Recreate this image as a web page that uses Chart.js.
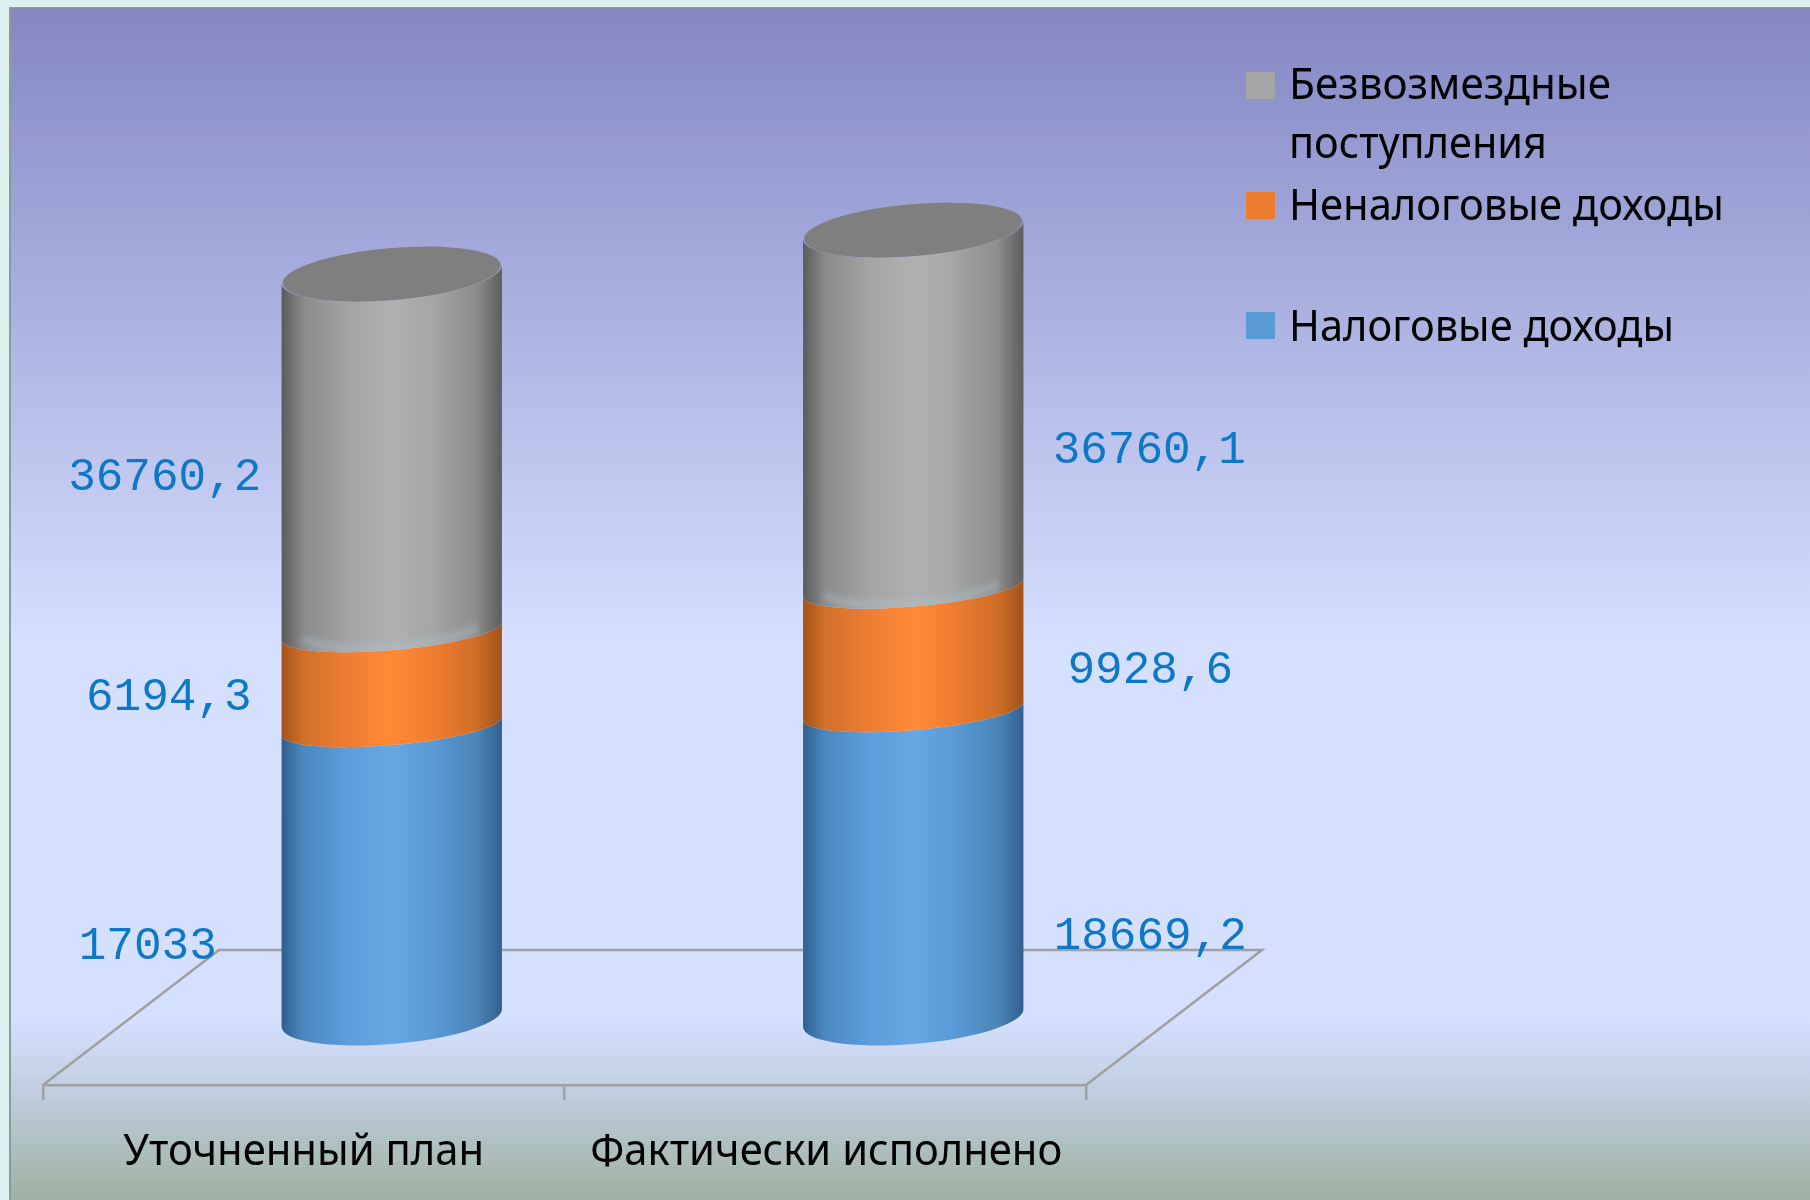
<!DOCTYPE html>
<html lang="ru">
<head>
<meta charset="utf-8">
<title>Доходы</title>
<style>
  html, body { margin: 0; padding: 0; background: #dcf0f0; }
  canvas { display: block; }
</style>
<script src="https://cdn.jsdelivr.net/npm/chart.js@4/dist/chart.umd.min.js"></script>
</head>
<body>
<canvas id="chart" width="1810" height="1200"></canvas>
<script>
const categories = ['Уточненный план', 'Фактически исполнено'];

// The printed labels do not scale with the drawn columns in the picture, so the
// heights are read off the picture, with the axis calibrated on the grey segment.
const taxHeights    = [30070, 31610];
const nonTaxHeights = [9780, 12720];
const grantHeights  = [36760, 36810];

const taxLabels    = ['17033', '18669,2'];
const nonTaxLabels = ['6194,3', '9928,6'];
const grantLabels  = ['36760,2', '36760,1'];

const seriesNames = ['Налоговые доходы', 'Неналоговые доходы', 'Безвозмездные поступления'];

// ── Styling ───────────────────────────────────────────────────────────────

const TEXT_FONT = '"Noto Sans", sans-serif';
const LABEL_FONT = '46px "Liberation Mono", monospace';
const LABEL_COLOR = '#0d78c6';
const FLOOR_COLOR = '#a0a0a0';

const DEPTH_X = 88;   // 3D shift from the front axis to the column centre
const DEPTH_Y = 67;
const ELLIPSE_B = 26;     // top and bottom faces
const SEAM_B = 19;        // boundaries between segments are flatter
const ELLIPSE_ROT = -0.085;

const SHADES = [
    ['#2e5f8e', '#4a88bf', '#5c9ddb', '#66a7e4', '#5a9ad6', '#4c86b8', '#30608c'],
    ['#a3521a', '#d0702a', '#ee7d33', '#ff8b36', '#f07d30', '#cf6e28', '#a0521a'],
    ['#5a5a5a', '#8a8a8a', '#a4a4a4', '#b1b1b1', '#a6a6a6', '#8d8d8d', '#5c5c5c']
];
const SHADE_STOPS = [0, 0.1, 0.3, 0.5, 0.68, 0.88, 1];
const TOP_COLOR = '#7f7f7f';

// dx from the bar centre on the front axis, dy from the segment centre
const LABEL_OFFSETS = [
    [[-156, 75], [325, 72]],
    [[-135, 19], [325, 22]],
    [[-139, 25], [324, 42]]
];

const LEGEND_ROWS = [
    { color: '#a5a5a5', box: 72,  lines: [['Безвозмездные', 99, 322], ['поступления', 158, 258]] },
    { color: '#ed7d31', box: 192, lines: [['Неналоговые доходы', 220, 435]] },
    { color: '#5b9bd5', box: 312, lines: [['Налоговые доходы', 341, 385]] }
];
const CATEGORY_WIDTHS = [361, 472];

// ── Plugins ───────────────────────────────────────────────────────────────

const backdropPlugin = {
    id: 'backdrop',
    beforeDraw(chart) {
        const { ctx, width, height } = chart;
        ctx.save();
        ctx.fillStyle = '#dcf0f0';
        ctx.fillRect(0, 0, width, height);
        const g = ctx.createLinearGradient(0, 8, 0, 1200);
        g.addColorStop(0, '#8487c4');
        g.addColorStop(0.53, '#d5dffe');
        g.addColorStop(0.85, '#d5dffe');
        g.addColorStop(0.91, '#bfcdde');
        g.addColorStop(1, '#9eb1a2');
        ctx.fillStyle = g;
        ctx.fillRect(10, 8, width - 10, height - 8);
        ctx.fillStyle = '#8f9a9c';
        ctx.fillRect(9, 7, 2, height - 7);
        ctx.fillRect(9, 7, width - 9, 1.5);
        ctx.restore();
    }
};

const floorPlugin = {
    id: 'floor',
    beforeDatasetsDraw(chart) {
        const { ctx, chartArea } = chart;
        const { left, right, bottom } = chartArea;
        const bx = DEPTH_X * 2, by = DEPTH_Y * 2 + 1;
        ctx.save();
        ctx.strokeStyle = FLOOR_COLOR;
        ctx.lineWidth = 2.5;
        ctx.beginPath();
        ctx.moveTo(left, bottom);
        ctx.lineTo(left + bx, bottom - by);
        ctx.lineTo(right + bx, bottom - by);
        ctx.lineTo(right, bottom);
        ctx.stroke();
        ctx.restore();
    }
};

function tangentAngle(a, b) {
    return Math.atan(-(b / a) * Math.tan(ELLIPSE_ROT));
}

function segmentPath(ctx, cx, yTop, yBot, a, bTop, bBot) {
    const tb = tangentAngle(a, bBot), tt = tangentAngle(a, bTop);
    ctx.beginPath();
    ctx.ellipse(cx, yBot, a, bBot, ELLIPSE_ROT, tb, tb + Math.PI, false);
    ctx.ellipse(cx, yTop, a, bTop, ELLIPSE_ROT, tt + Math.PI, tt, true);
    ctx.closePath();
}

const cylinderPlugin = {
    id: 'cylinders',
    afterDatasetsDraw(chart) {
        const { ctx } = chart;
        const last = chart.data.datasets.length - 1;
        ctx.save();
        chart.data.datasets.forEach((ds, di) => {
            chart.getDatasetMeta(di).data.forEach(bar => {
                const { x, y, base, width } = bar.getProps(['x', 'y', 'base', 'width'], true);
                const cx = x + DEPTH_X;
                const a = width / 2;
                const bTop = di === last ? ELLIPSE_B : SEAM_B;
                const bBot = di === 0 ? ELLIPSE_B : SEAM_B;
                const g = ctx.createLinearGradient(cx - a, 0, cx + a, 0);
                SHADES[di].forEach((c, i) => g.addColorStop(SHADE_STOPS[i], c));
                ctx.fillStyle = g;
                segmentPath(ctx, cx, y - DEPTH_Y, base - DEPTH_Y, a, bTop, bBot);
                ctx.fill();

                if (di === last) {
                    // soft pale band left along the grey/orange seam
                    ctx.save();
                    segmentPath(ctx, cx, y - DEPTH_Y, base - DEPTH_Y, a, bTop, bBot);
                    ctx.clip();
                    ctx.filter = 'blur(3px)';
                    ctx.strokeStyle = 'rgba(178,194,205,0.4)';
                    ctx.lineWidth = 9;
                    ctx.beginPath();
                    ctx.ellipse(cx, base - DEPTH_Y - 3, a - 22, SEAM_B, ELLIPSE_ROT, 0.3, Math.PI - 0.1, false);
                    ctx.stroke();
                    ctx.restore();

                    ctx.fillStyle = TOP_COLOR;
                    ctx.beginPath();
                    ctx.ellipse(cx, y - DEPTH_Y, a - 1, ELLIPSE_B, ELLIPSE_ROT, 0, Math.PI * 2);
                    ctx.fill();
                }
            });
        });
        ctx.restore();
    }
};

const textPlugin = {
    id: 'texts',
    afterDraw(chart) {
        const { ctx } = chart;
        ctx.save();

        // value labels
        ctx.font = LABEL_FONT;
        ctx.fillStyle = LABEL_COLOR;
        ctx.textAlign = 'center';
        ctx.textBaseline = 'middle';
        chart.data.datasets.forEach((ds, di) => {
            chart.getDatasetMeta(di).data.forEach((bar, i) => {
                const { x, y, base } = bar.getProps(['x', 'y', 'base'], true);
                const [dx, dy] = LABEL_OFFSETS[di][i];
                ctx.fillText(ds.valueLabels[i], x + dx, (y + base) / 2 - DEPTH_Y + dy);
            });
        });

        // category labels
        const xScale = chart.scales.x;
        ctx.font = '44px ' + TEXT_FONT;
        ctx.fillStyle = '#000';
        ctx.textBaseline = 'alphabetic';
        categories.forEach((c, i) => {
            ctx.fillText(c, xScale.getPixelForValue(i) + i, 1165, CATEGORY_WIDTHS[i]);
        });

        // legend
        ctx.textAlign = 'left';
        ctx.font = '43px ' + TEXT_FONT;
        LEGEND_ROWS.forEach(row => {
            ctx.fillStyle = row.color;
            ctx.fillRect(1246, row.box, 29, 27);
            ctx.fillStyle = '#000';
            row.lines.forEach(([text, baseline, w]) => ctx.fillText(text, 1289, baseline, w));
        });
        ctx.restore();
    }
};

// ── Chart ─────────────────────────────────────────────────────────────────

new Chart(document.getElementById('chart'), {
    type: 'bar',
    data: {
        labels: categories,
        datasets: [
            { label: seriesNames[0], data: taxHeights, valueLabels: taxLabels, backgroundColor: 'transparent' },
            { label: seriesNames[1], data: nonTaxHeights, valueLabels: nonTaxLabels, backgroundColor: 'transparent' },
            { label: seriesNames[2], data: grantHeights, valueLabels: grantLabels, backgroundColor: 'transparent' }
        ]
    },
    options: {
        responsive: false,
        animation: false,
        layout: { padding: { left: 43, right: 724, top: 114, bottom: 100 } },
        datasets: { bar: { barPercentage: 0.424, categoryPercentage: 1 } },
        plugins: { legend: { display: false }, tooltip: { enabled: false } },
        scales: {
            x: {
                stacked: true,
                border: { color: FLOOR_COLOR, width: 2.5 },
                grid: { color: FLOOR_COLOR, lineWidth: 2.5, drawOnChartArea: false, tickLength: 15 },
                ticks: { display: false }
            },
            y: { stacked: true, display: false, min: 0, max: 100000 }
        }
    },
    plugins: [backdropPlugin, floorPlugin, cylinderPlugin, textPlugin]
});
</script>
</body>
</html>
